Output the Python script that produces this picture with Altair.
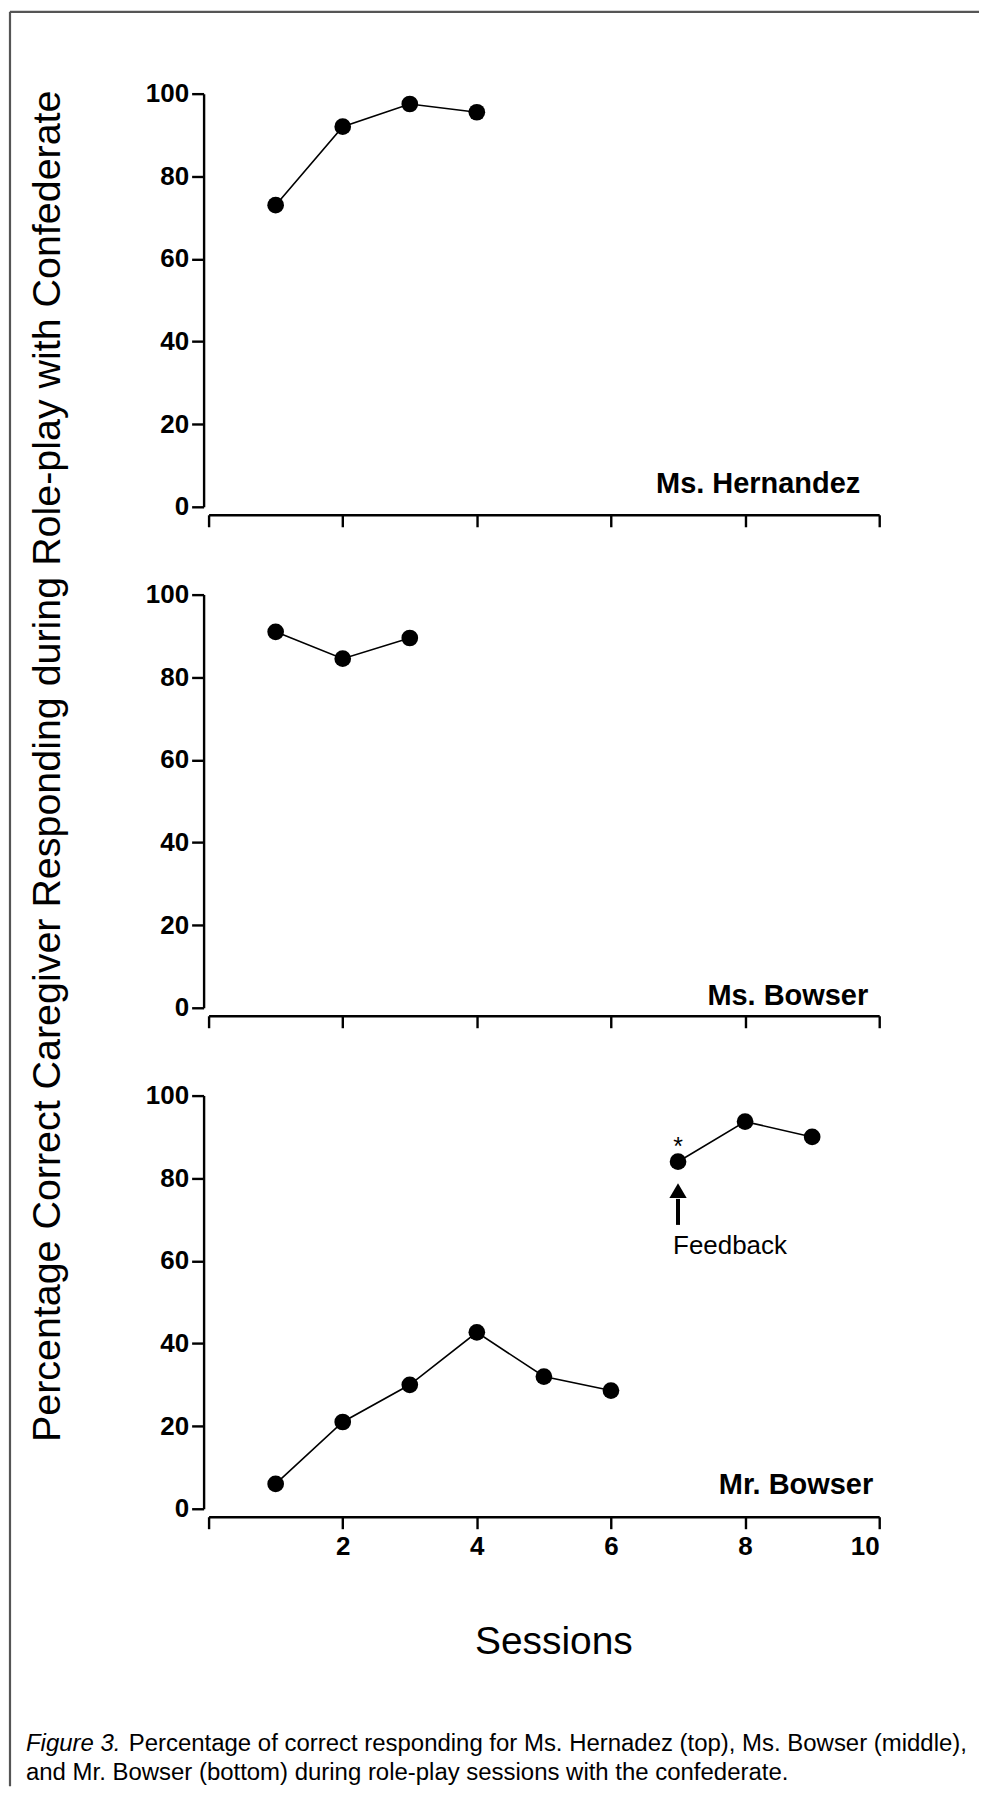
import altair as alt
import pandas as pd

# ---- data ----
hern_session = [1, 2, 3, 4]
hern_pct = [73, 92, 97.5, 95.5]

msb_session = [1, 2, 3]
msb_pct = [91, 84.5, 89.5]

mrb_session = [1, 2, 3, 4, 5, 6, 7, 8, 9]
mrb_pct = [6, 21, 30, 42.7, 32, 28.6, 84, 93.7, 90]
mrb_phase = ["baseline"] * 6 + ["feedback"] * 3

x_ticks = [0, 2, 4, 6, 8, 10]
y_ticks = [0, 20, 40, 60, 80, 100]

y_title = "Percentage Correct Caregiver Responding during Role-play with Confederate"
x_title = "Sessions"
cap_italic = "Figure 3."
cap_line1 = "Percentage of correct responding for Ms. Hernadez (top), Ms. Bowser (middle),"
cap_line2 = "and Mr. Bowser (bottom) during role-play sessions with the confederate."

# feedback annotation (data units)
fb_session = [7]
fb_star_y = [87.5]
fb_shaft = [(68.7, 75.0)]
fb_head_y = [77.0]
fb_text_y = [63.5]

FONT = "Liberation Sans"
W, H = 672, 414

one = pd.DataFrame({"a": [0]})
noview = alt.ViewBackground(stroke="transparent", strokeWidth=0)


def axes(show_x_labels):
    x = alt.X(
        "session:Q",
        scale=alt.Scale(domain=[0, 10], nice=False),
        axis=alt.Axis(
            values=x_ticks, offset=8, grid=False, title=None, format="d",
            domainColor="black", domainWidth=2.4, tickColor="black",
            tickWidth=2.4, tickSize=12, labels=show_x_labels,
            labelExpr="datum.value == 0 ? '' : datum.label",
            labelFont=FONT, labelFontSize=26, labelFontWeight="bold",
            labelColor="black", labelPadding=5,
        ),
    )
    y = alt.Y(
        "pct:Q",
        scale=alt.Scale(domain=[0, 100], nice=False),
        axis=alt.Axis(
            values=y_ticks, offset=5, grid=False, title=None, format="d",
            domainColor="black", domainWidth=2.4, tickColor="black",
            tickWidth=2.4, tickSize=12, labelFont=FONT, labelFontSize=26,
            labelFontWeight="bold", labelColor="black", labelPadding=3,
        ),
    )
    return x, y


def panel(df, label, lx, ly, show_x_labels):
    x, y = axes(show_x_labels)
    base = alt.Chart(df)
    line = base.mark_line(color="black", strokeWidth=1.6).encode(
        x=x, y=y, detail="phase:N"
    )
    pts = base.mark_circle(color="black", opacity=1, size=280).encode(x=x, y=y)
    lab = alt.Chart(one).mark_text(
        font=FONT, fontSize=29, fontWeight="bold", align="right",
        baseline="middle", color="black",
    ).encode(x=alt.value(lx), y=alt.value(ly), text=alt.value(label))
    return [line, pts, lab]


df1 = pd.DataFrame({"session": hern_session, "pct": hern_pct, "phase": "a"})
df2 = pd.DataFrame({"session": msb_session, "pct": msb_pct, "phase": "a"})
df3 = pd.DataFrame({"session": mrb_session, "pct": mrb_pct, "phase": mrb_phase})

# frame (top and left border lines)
frame_v = alt.Chart(one).mark_rule(color="#555555", strokeWidth=2.2).encode(
    x=alt.value(-199), y=alt.value(-82), y2=alt.value(1696)
)
frame_h = alt.Chart(one).mark_rule(color="#555555", strokeWidth=2.2).encode(
    x=alt.value(-199), x2=alt.value(772), y=alt.value(-82)
)

p1 = alt.layer(*panel(df1, "Ms. Hernandez", 653, 391, False), frame_v, frame_h).properties(
    width=W, height=H, view=noview
)

ytitle = alt.Chart(one).mark_text(
    font=FONT, fontSize=39.5, angle=270, align="center", baseline="middle",
    color="black",
).encode(x=alt.value(-161), y=alt.value(172), text=alt.value(y_title))
p2 = alt.layer(*panel(df2, "Ms. Bowser", 661, 402, False), ytitle).properties(
    width=W, height=H, view=noview
)

fb = pd.DataFrame({
    "session": fb_session, "star": fb_star_y, "s0": [fb_shaft[0][0]],
    "s1": [fb_shaft[0][1]], "head": fb_head_y, "ty": fb_text_y,
})
xs = alt.X("session:Q", scale=alt.Scale(domain=[0, 10], nice=False))
ysc = alt.Scale(domain=[0, 100], nice=False)
star = alt.Chart(fb).mark_text(font=FONT, fontSize=25, color="black",
                                baseline="middle").encode(
    x=xs, y=alt.Y("star:Q", scale=ysc), text=alt.value("*")
)
shaft = alt.Chart(fb).mark_rule(color="black", strokeWidth=4).encode(
    x=xs, y=alt.Y("s0:Q", scale=ysc), y2="s1:Q"
)
head = alt.Chart(fb).mark_point(shape="triangle-up", filled=True, color="black",
                                 opacity=1, size=300).encode(
    x=xs, y=alt.Y("head:Q", scale=ysc)
)
fbtext = alt.Chart(fb).mark_text(font=FONT, fontSize=26, color="black",
                                  align="left", baseline="middle", dx=-5).encode(
    x=xs, y=alt.Y("ty:Q", scale=ysc), text=alt.value("Feedback")
)
xtitle = alt.Chart(one).mark_text(
    font=FONT, fontSize=39, align="center", baseline="middle", color="black"
).encode(x=alt.value(346), y=alt.value(548), text=alt.value(x_title))
cap_a = alt.Chart(one).mark_text(
    font=FONT, fontSize=24, fontStyle="italic", align="left", baseline="middle",
    color="black",
).encode(x=alt.value(-183), y=alt.value(650), text=alt.value(cap_italic))
cap_b = alt.Chart(one).mark_text(
    font=FONT, fontSize=24, align="left", baseline="middle", color="black"
).encode(x=alt.value(-80), y=alt.value(650), text=alt.value(cap_line1))
cap_c = alt.Chart(one).mark_text(
    font=FONT, fontSize=24, align="left", baseline="middle", color="black"
).encode(x=alt.value(-183), y=alt.value(679), text=alt.value(cap_line2))

p3 = alt.layer(
    *panel(df3, "Mr. Bowser", 666, 390, True),
    star, shaft, head, fbtext, xtitle, cap_a, cap_b, cap_c,
).properties(width=W, height=H, view=noview)

chart = (
    alt.vconcat(p1, p2, p3, spacing=88, bounds="flush")
    .properties(padding={"left": 0, "top": 0, "right": 0, "bottom": 0})
    .configure_view(stroke="transparent", strokeWidth=0)
    .configure_axis(grid=False)
    .configure(background="white")
)

chart.save("out.html", embed_options={"renderer": "svg", "actions": False})
